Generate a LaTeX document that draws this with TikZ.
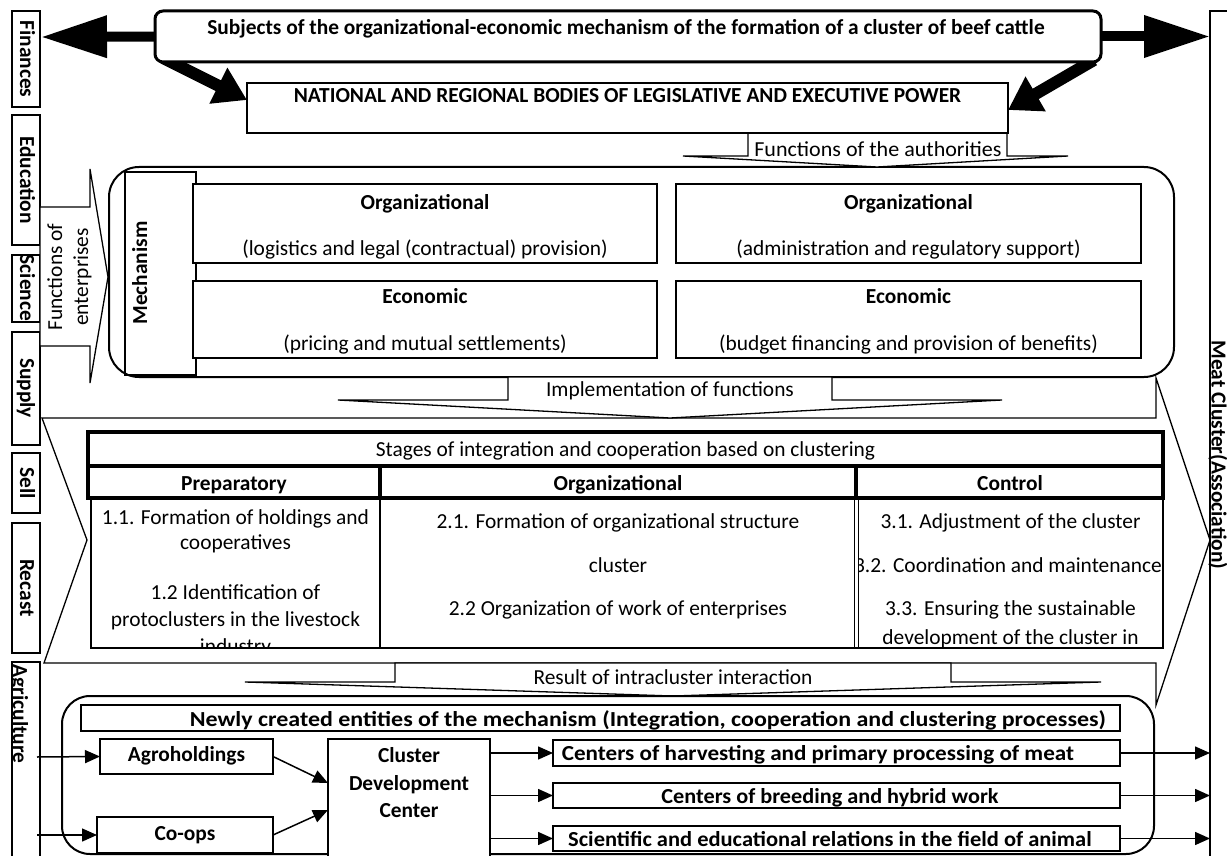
\documentclass[tikz,border=0pt]{standalone}
\usepackage{fontspec}
\usepackage{graphicx}
\setmainfont{Carlito}
\usetikzlibrary{arrows.meta,fit,backgrounds}
\begin{document}
\begin{tikzpicture}[x=1pt,y=-1pt,
  lbl/.style={font=\fontsize{21.4}{25}\selectfont, inner sep=0pt, outer sep=0pt, anchor=base},
  blbl/.style={font=\fontsize{21.4}{25}\selectfont\bfseries, inner sep=0pt, outer sep=0pt, anchor=base},
  frame/.style={draw, line width=1.3pt, inner sep=0pt, outer sep=0pt, fill=white},
  arr/.style={line width=1.5pt, -{Triangle[length=15pt,width=13pt]}},
  fatarr/.style={line width=10pt, -{Triangle[length=66pt,width=40pt]}},
  diagarr/.style={line width=12pt, -{Triangle[length=32pt,width=38pt]}},
  shp/.style={draw, line width=1.3pt, line join=miter}
]
\useasboundingbox (0,0) rectangle (1227,856);
\clip (0,0) rectangle (1227,856);

% ---------- right box: meat cluster
\node[frame, fit={(1210,11) (1250,880)}] (meat) {};
\node[blbl, rotate=-90] (meattxt) at (1211.5,455) {Meat Cluster(Association)};

% ---------- left bars
\node[frame, fit={(12,11) (40,107)}] (fin) {};
\node[blbl, rotate=-90] (fintxt) at (20,59) {Finances};
\node[frame, fit={(12,115) (40,245)}] (edu) {};
\node[blbl, rotate=-90] (edutxt) at (20,180) {Education};
\node[frame, fit={(12,255) (40,322)}] (sci) {};
\node[blbl, rotate=-90] (scitxt) at (20,288) {Science};
\node[frame, fit={(12,332) (40,445)}] (sup) {};
\node[blbl, rotate=-90] (suptxt) at (20,388) {Supply};
\node[frame, fit={(12,453) (40,513)}] (sel) {};
\node[blbl, rotate=-90] (seltxt) at (20,483) {Sell};
\node[frame, fit={(12,523) (40,653)}] (rec) {};
\node[blbl, rotate=-90] (rectxt) at (20,588) {Recast};
\node[frame, fit={(12,662) (40,880)}] (agr) {};
\begin{scope}
  \clip (12,662) rectangle (40,880);
  \node[blbl, rotate=-90] (agrtxt) at (13,714) {Agriculture};
\end{scope}

% ---------- big notched arrow
\draw[shp] (42,418) -- (1156,418) -- (1156,378) -- (1210,540) -- (1156,705)
  -- (1156,663) -- (44,663) -- (87,540) -- cycle;

% ---------- functions of enterprises callout
\draw[shp, fill=white] (40,207) -- (90,207) -- (90,169) -- (108,277) -- (90,383)
  -- (90,346) -- (40,346) -- cycle;
\node[lbl, rotate=90] (ent1) at (62,277) {Functions of};
\node[lbl, rotate=90] (ent2) at (88,277) {enterprises};

% ---------- mechanism
\node[frame, line width=2pt, rounded corners=30pt, fit={(109,167) (1174,377)}] (mech) {};
\node[frame, fill=none, line width=1.1pt, fit={(125,172) (196,375)}] (mcol) {};
\node[blbl, rotate=90] (mechtxt) at (147,273) {Mechanism};
\node[frame, line width=1.6pt, fit={(193,184) (657,263)}] (orgL) {};
\node[frame, line width=1.6pt, fit={(193,281) (657,358)}] (ecoL) {};
\node[frame, line width=1.6pt, fit={(676,184) (1141,263)}] (orgR) {};
\node[frame, line width=1.6pt, fit={(676,281) (1141,358)}] (ecoR) {};
\node[blbl] (orgLt) at (425,210) {Organizational};
\node[lbl] (orgLs) at (425,255) {(logistics and legal (contractual) provision)};
\node[blbl] (ecoLt) at (425,303) {Economic};
\node[lbl] (ecoLs) at (425,350) {(pricing and mutual settlements)};
\node[blbl] (orgRt) at (908.5,210) {Organizational};
\node[lbl] (orgRs) at (908.5,255) {(administration and regulatory support)};
\node[blbl] (ecoRt) at (908.5,303) {Economic};
\node[lbl] (ecoRs) at (908.5,350) {(budget financing and provision of benefits)};

% ---------- functions of the authorities callout
\draw[shp, fill=white] (683,156) -- (748,156) -- (748,133) -- (1007,133) -- (1007,156)
  -- (1068,156) -- (877,167) -- cycle;
\node[lbl] (authtxt) at (878,157) {\scalebox{1.03}[1]{Functions of the authorities}};

% ---------- top boxes
\node[frame, line width=3pt, rounded corners=8pt, fit={(155,11) (1101,62)}] (top) {};
\node[blbl] (toptxt) at (626,35) {Subjects of the organizational-economic mechanism of the formation of a cluster of beef cattle};
\node[frame, line width=1.5pt, fit={(247,83) (1008,133)}] (nat) {};
\node[blbl] (nattxt) at (627.5,103) {NATIONAL AND REGIONAL BODIES OF LEGISLATIVE AND EXECUTIVE POWER};

\coordinate (finTip) at (41,37);
\coordinate (dlS) at (163,58);
\coordinate (drS) at (1094,60);
\begin{pgfonlayer}{background}
  \draw[fatarr] (top.west) -- (finTip);
  \draw[fatarr] (top.east) -- (top.east -| meat.west);
  \draw[diagarr] (dlS) -- ([yshift=8pt]nat.west);
  \draw[diagarr] (drS) -- ([yshift=-2pt]nat.east);
\end{pgfonlayer}

% ---------- implementation callout
\draw[shp, fill=white] (338,400) -- (508,400) -- (508,377) -- (832,377) -- (832,400)
  -- (1002,400) -- (670,418) -- cycle;
\node[lbl] (impltxt) at (670,396) {Implementation of functions};

% ---------- stages table
\draw[line width=1.3pt] (91,498) -- (91,648) -- (1163,648) -- (1163,498);
\draw[line width=1.3pt] (380,498) -- (380,648);
\draw[line width=0.9pt] (854.5,498) -- (854.5,648);
\draw[line width=0.9pt] (858,498) -- (858,648);
\draw[line width=4pt] (88,432) rectangle (1163,498);
\draw[line width=4pt] (88,466) -- (1163,466);
\draw[line width=4pt] (380,466) -- (380,498);
\draw[line width=4pt] (856,466) -- (856,498);
\node[lbl] (stg) at (625.5,456) {Stages of integration and cooperation based on clustering};
\node[blbl] (prep) at (234,490) {Preparatory};
\node[blbl] (orgh) at (618,490) {Organizational};
\node[blbl] (ctrl) at (1010,490) {Control};
\begin{scope}
  \clip (91,498) rectangle (380,648);
  \node[lbl] (c11) at (235.5,524) {1.1. Formation of holdings and};
  \node[lbl] (c12) at (235.5,549) {cooperatives};
  \node[lbl] (c13) at (235.5,599) {1.2 Identification of};
  \node[lbl] (c14) at (235.5,626) {protoclusters in the livestock};
  \node[lbl] (c15) at (235.5,653) {industry};
\end{scope}
\begin{scope}
  \clip (380,498) rectangle (855,648);
  \node[lbl] (c21) at (618,528) {2.1. Formation of organizational structure};
  \node[lbl] (c22) at (618,572) {cluster};
  \node[lbl] (c23) at (618,615) {2.2 Organization of work of enterprises};
\end{scope}
\begin{scope}
  \clip (858,498) rectangle (1163,648);
  \node[lbl] (c31) at (1010.5,528) {3.1. Adjustment of the cluster};
  \node[lbl] (c32) at (1008,572) {3.2. Coordination and maintenance};
  \node[lbl] (c33) at (1010.5,615) {3.3. Ensuring the sustainable};
  \node[lbl] (c34) at (1010.5,644) {development of the cluster in};
\end{scope}

% ---------- result callout
\draw[shp, fill=white] (245,682) -- (395,682) -- (395,663) -- (951,663) -- (951,682)
  -- (1101,682) -- (673,696) -- cycle;
\node[lbl] (restxt) at (673,684) {Result of intracluster interaction};

% ---------- bottom block
\node[frame, line width=2pt, rounded corners=28pt, fit={(62,696) (1154,854)}] (bot) {};
\node[frame, line width=1.5pt, fit={(81,705) (1120,731)}] (newly) {};
\node[blbl] (newlytxt) at (648,726) {\scalebox{1.12}[1]{Newly created entities of the mechanism (Integration, cooperation and clustering processes)}};
\node[frame, line width=1.5pt, fit={(100,739) (273,774)}] (agro) {};
\node[blbl] (agrotxt) at (186.5,761) {Agroholdings};
\node[frame, line width=1.5pt, fit={(97,817) (273,853)}] (coops) {};
\node[blbl] (coopstxt) at (185,840) {Co-ops};
\node[frame, line width=1.5pt, fit={(328,739) (490,870)}] (cdc) {};
\node[blbl] (cdc1) at (409,762) {Cluster};
\node[blbl] (cdc2) at (409,790) {Development};
\node[blbl] (cdc3) at (409,817) {Center};
\node[frame, line width=1.5pt, fit={(553,740) (1120,766)}] (harv) {};
\node[blbl] (harvtxt) at (818,760) {\scalebox{1.08}[1]{Centers of harvesting and primary processing of meat}};
\node[frame, line width=1.5pt, fit={(553,783) (1120,808)}] (breed) {};
\node[blbl] (breedtxt) at (830,803) {\scalebox{1.04}[1]{Centers of breeding and hybrid work}};
\node[frame, line width=1.5pt, fit={(553,826) (1120,851)}] (scien) {};
\node[blbl] (sciencetxt) at (830,846) {\scalebox{1.05}[1]{Scientific and educational relations in the field of animal}};

\coordinate (inA) at (37,757);
\coordinate (inB) at (37,835);
\coordinate (cdcA) at (328,783);
\coordinate (cdcB) at (328,810);
\draw[arr] (inA) -- (agro.west);
\draw[arr] (inB) -- (coops.west);
\draw[arr] (agro.east) -- (cdcA);
\draw[arr] (coops.east) -- (cdcB);
\draw[arr] (cdc.east |- harv.west) -- (harv.west);
\draw[arr] (cdc.east |- breed.west) -- (breed.west);
\draw[arr] (cdc.east |- scien.west) -- (scien.west);
\draw[arr] (harv.east) -- (harv.east -| meat.west);
\draw[arr] (breed.east) -- (breed.east -| meat.west);
\draw[arr] (scien.east) -- (scien.east -| meat.west);
\end{tikzpicture}
\end{document}
